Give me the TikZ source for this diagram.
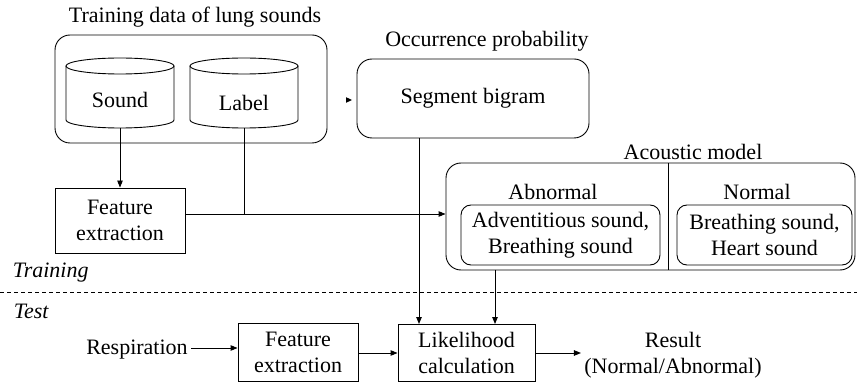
\documentclass[tikz,border=0pt]{standalone}
\usepackage{fontspec}
\setmainfont{Liberation Serif}
\usetikzlibrary{arrows.meta}
\begin{document}
\begin{tikzpicture}[x=1pt,y=1pt,line width=0.9pt,
  every node/.style={font=\fontsize{22}{26}\selectfont},
  rbox/.style={draw,rounded corners=15pt,inner sep=0pt},
  ibox/.style={draw,rounded corners=10pt,align=center,inner sep=0pt},
  sbox/.style={draw,rectangle,align=center,inner sep=0pt},
  arr/.style={-{Triangle[length=7pt,width=5.5pt]}},
  cyl/.style={draw}]
\useasboundingbox (0,0) rectangle (857,-382);
% training data
\node (ttrain) at (195,-17) {Training data of lung sounds};
\node[rbox,minimum width=272pt,minimum height=108pt] (trbox) at (191,-89) {};
\draw[cyl] (66,-66) -- (66,-120) arc[start angle=180,end angle=360,x radius=54,y radius=8] -- (174,-66);
\draw[cyl] (120,-66) ellipse [x radius=54,y radius=8];
\draw[cyl] (190,-66) -- (190,-120) arc[start angle=180,end angle=360,x radius=54,y radius=8] -- (298,-66);
\draw[cyl] (244,-66) ellipse [x radius=54,y radius=8];
\node (sound) at (120,-100) {Sound};
\node (label) at (244,-103) {Label};
\coordinate (sb) at (120,-128);
\coordinate (lb) at (244,-128);
% feature extraction (training)
\node[sbox,minimum width=130pt,minimum height=65pt] (fe1) at (120,-220.5) {Feature\\extraction};
\coordinate (j1) at (244,-214);
% segment bigram
\node (tocc) at (487,-41) {Occurrence probability};
\node[rbox,minimum width=232pt,minimum height=79pt] (seg) at (473,-98.5) {Segment bigram};
\fill (352,-100) -- (346,-97.2) -- (346,-102.8) -- cycle;
% acoustic model
\node (tam) at (693,-152) {Acoustic model};
\node[rbox,minimum width=409pt,minimum height=107pt] (am) at (650.5,-216.5) {};
\coordinate (dvt) at (668,-163);
\coordinate (dvb) at (668,-270);
\draw (dvt) -- (dvb);
\node (abn) at (553,-192) {Abnormal};
\node (nor) at (757,-192) {Normal};
\node[ibox,minimum width=199pt,minimum height=60pt] (abox) at (560.5,-235) {Adventitious sound,\\Breathing sound};
\node[ibox,minimum width=175pt,minimum height=60pt] (nbox) at (764.5,-235) {Breathing sound,\\Heart sound};
% training/test separator
\coordinate (dl) at (0,-292);
\coordinate (dr) at (857,-292);
\draw[dash pattern=on 4pt off 3pt,line width=0.7pt] (dl) -- (dr);
\node[anchor=west,font=\fontsize{22}{26}\selectfont\itshape] (ttr) at (9,-273) {Training};
\node[anchor=west,font=\fontsize{22}{26}\selectfont\itshape] (tte) at (10,-311) {Test};
% test row
\node (resp) at (137,-350) {Respiration};
\node[sbox,minimum width=120pt,minimum height=58pt] (fe2) at (298,-352) {Feature\\extraction};
\node[sbox,minimum width=137pt,minimum height=57pt] (lik) at (466.5,-352.5) {Likelihood\\calculation};
\node[align=center,inner sep=3pt] (res) at (673,-355) {Result\\(Normal/Abnormal)};
% connectors
\draw[arr] (sb) -- (fe1.north);
\draw (lb) -- (j1);
\draw[arr] (fe1.east |- j1) -- (am.west |- j1);
\draw[arr] (419,-138) -- (419,-324);
\draw[arr] (495,-270) -- (495,-324);
\draw[arr] (resp.east |- 0,-348) -- (fe2.west |- 0,-348);
\draw[arr] (fe2.east |- 0,-353) -- (lik.west |- 0,-353);
\draw[arr] (lik.east |- 0,-353) -- (res.west |- 0,-353);
\end{tikzpicture}
\end{document}
